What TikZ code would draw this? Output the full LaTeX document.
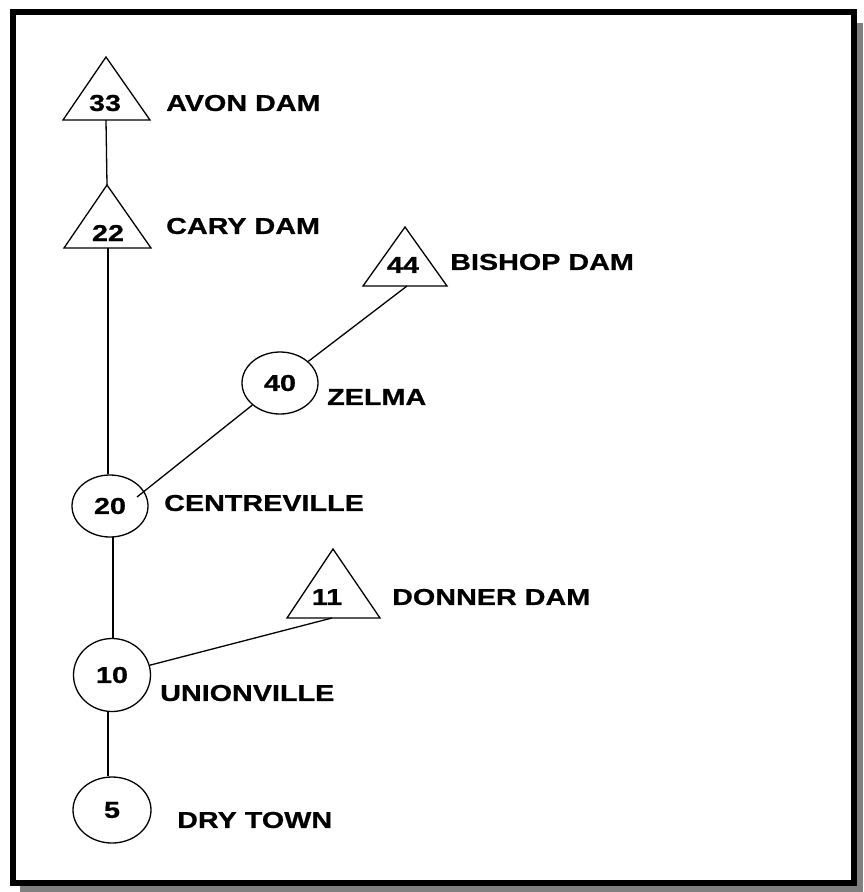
\documentclass[tikz,border=0pt]{standalone}
\usepackage{fontspec}
\newfontfamily\lab{Liberation Sans}[FakeStretch=1.25, FakeBold=0.8]
\usetikzlibrary{shapes.geometric}
\begin{document}
\begin{tikzpicture}[x=1pt,y=-1pt,
  lbl/.style={font=\lab\bfseries\fontsize{23}{23}\selectfont, anchor=west, inner sep=0pt},
  num/.style={font=\lab\bfseries\fontsize{23}{23}\selectfont, inner sep=0pt},
  town/.style={ellipse, draw, line width=1.3pt, inner sep=0pt, font=\lab\bfseries\fontsize{23}{23}\selectfont},
  damline/.style={draw, line width=1.3pt, line join=miter},
  link/.style={line width=1.3pt}]
\useasboundingbox (0,0) rectangle (863,892);
% frame with shadow
\fill[black!50] (20,23) rectangle (863,892);
\draw[line width=6pt, fill=white] (13,12) rectangle (854,883);

% dams (triangles)
\node[num] (n33) at (105,103) {33};
\coordinate (a33) at (106,57); \coordinate (b33) at (106,120);
\draw[damline] (a33) -- (150,120) -- (63,120) -- cycle;
\node[lbl] (l33) at (166,103) {AVON DAM};

\node[num] (n22) at (108,233) {22};
\coordinate (a22) at (107,185); \coordinate (b22) at (108,248);
\draw[damline] (a22) -- (151,248) -- (64,248) -- cycle;
\node[lbl] (l22) at (166,226) {CARY DAM};

\node[num] (n44) at (403,265) {44};
\coordinate (a44) at (405,227); \coordinate (b44) at (407,286);
\draw[damline] (a44) -- (447,286) -- (363,286) -- cycle;
\node[lbl] (l44) at (450,262) {BISHOP DAM};

\node[num] (n11) at (327,597) {11};
\coordinate (a11) at (333,549); \coordinate (b11) at (332,618);
\draw[damline] (a11) -- (380,618) -- (287,618) -- cycle;
\node[lbl] (l11) at (392,597) {DONNER DAM};

% towns (ellipses)
\node[town, minimum width=76pt, minimum height=62pt] (n20) at (110,506) {20};
\node[lbl] (l20) at (164,503) {CENTREVILLE};
\node[town, minimum width=76pt, minimum height=62pt] (n40) at (280,383) {40};
\node[lbl] (l40) at (327,397) {ZELMA};
\node[town, minimum width=77pt, minimum height=73pt] (n10) at (112,675) {10};
\node[lbl] (l10) at (160,693) {UNIONVILLE};
\node[town, minimum width=78pt, minimum height=66pt] (n5) at (112,810) {5};
\node[lbl] (l5) at (177,820) {DRY TOWN};

% connectors
\coordinate (e20) at (137,497);
\coordinate (v20) at (113,537);
\draw[link] (b33) -- (a22);
\draw[link] (b22) -- (b22 |- n20.north);
\draw[link] (n40) -- (b44);
\draw[link] (n40) -- (e20);
\draw[link] (v20) -- (v20 |- n10.north);
\draw[link] (n10) -- (b11);
\draw[link] ([xshift=-4pt]n10.south) -- ([xshift=-4pt]n5.north);
\end{tikzpicture}
\end{document}
